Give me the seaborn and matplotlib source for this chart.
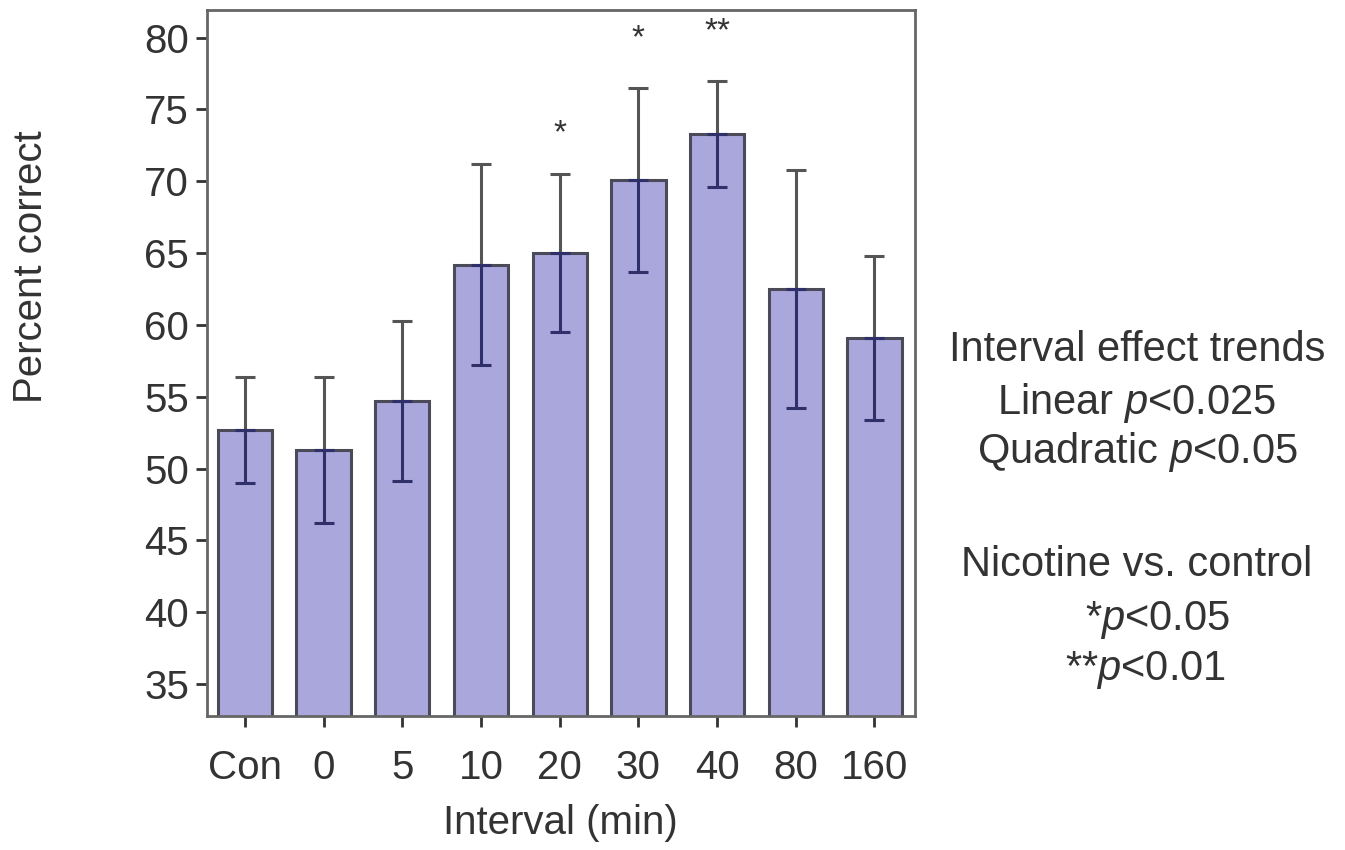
import matplotlib
matplotlib.use("Agg")
import matplotlib.pyplot as plt
import numpy as np
import pandas as pd
import seaborn as sns

intervals = ["Con", "0", "5", "10", "20", "30", "40", "80", "160"]
pct_correct = [52.7, 51.3, 54.7, 64.2, 65.0, 70.1, 73.3, 62.5, 59.1]
sem = [3.7, 5.1, 5.6, 7.0, 5.5, 6.4, 3.7, 8.3, 5.7]
stars = ["", "", "", "", "*", "*", "**", "", ""]
star_y = [0, 0, 0, 0, 73.3, 79.9, 80.4, 0, 0]

df = pd.DataFrame({"interval": intervals, "pct": pct_correct})

sns.set_style("white")
plt.rcParams["font.family"] = ["Liberation Sans", "DejaVu Sans"]
plt.rcParams["mathtext.fontset"] = "custom"
plt.rcParams["mathtext.it"] = "Liberation Sans:italic"
plt.rcParams["mathtext.rm"] = "Liberation Sans"

fig = plt.figure(figsize=(13.45, 8.5), dpi=100)
ax = fig.add_axes([0.154, 0.158, 0.526, 0.830])

sns.barplot(data=df, x="interval", y="pct", color="#aaa7dd", saturation=1,
            width=0.69, edgecolor="#4a4a58", linewidth=2.2, ax=ax)

x = np.arange(len(intervals))
y = np.array(pct_correct)
e = np.array(sem)
# upper half of the error bar sits above the bar in grey
ax.errorbar(x, y, yerr=[np.zeros_like(e), e], fmt="none", ecolor="#555555",
            elinewidth=2.2, capsize=7, capthick=2.2, zorder=3)
# lower half is drawn inside the bar in dark blue
ax.errorbar(x, y, yerr=[e, np.zeros_like(e)], fmt="none", ecolor="#2f2f6a",
            elinewidth=2.2, capsize=7, capthick=2.2, zorder=3)

for i, s in enumerate(stars):
    if s:
        ax.text(i, star_y[i], s, ha="center", va="center", fontsize=24, color="#333333")

ax.set_xlim(-0.48, 8.51)
ax.set_ylim(32.8, 81.9)
ax.set_yticks(range(35, 81, 5))
ax.set_xlabel("Interval (min)", fontsize=29, color="#333333", labelpad=12)
ax.set_ylabel("Percent correct", fontsize=29, color="#333333")
ax.yaxis.set_label_coords(-0.222, 0.637)
ax.tick_params(axis="both", labelsize=29, colors="#333333", length=8, width=2,
               direction="out", left=True, bottom=True, pad=5)
ax.tick_params(axis="x", pad=16)
for sp in ax.spines.values():
    sp.set_color("#666666")
    sp.set_linewidth(2)

notes = [
    (1137, 350, "Interval effect trends"),
    (1137, 403, r"Linear $\it{p}$<0.025"),
    (1137, 452, r"Quadratic $\it{p}$<0.05"),
    (1137, 565, "Nicotine vs. control"),
    (1157, 620, r"*$\it{p}$<0.05"),
    (1145, 670, r"**$\it{p}$<0.01"),
]
for px, py, t in notes:
    fig.text(px / 1345, 1 - py / 850, t, ha="center", va="center", fontsize=30,
             color="#333333")

fig.savefig("out.png", dpi=100)
